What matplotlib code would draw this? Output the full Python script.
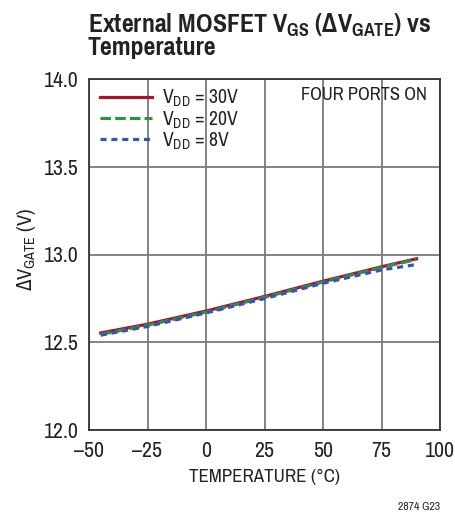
import matplotlib
matplotlib.use("Agg")
import matplotlib.pyplot as plt
from matplotlib import font_manager as fm

# data
temp = [-45, -25, 0, 25, 50, 75, 90]
vdd30 = [12.553, 12.603, 12.678, 12.761, 12.848, 12.930, 12.976]
vdd20 = [12.545, 12.597, 12.672, 12.756, 12.843, 12.926, 12.972]
vdd8 = [12.540, 12.590, 12.667, 12.749, 12.836, 12.912, 12.943]
xticks = [-50, -25, 0, 25, 50, 75, 100]
yticks = [12.0, 12.5, 13.0, 13.5, 14.0]


def wnum(w):
    if isinstance(w, str):
        return {"bold": 700, "heavy": 800, "black": 900, "semibold": 600,
                "demibold": 600}.get(w.lower(), 400)
    return w


# first narrow family that has both a regular and a bold face
prefs = ["Liberation Sans Narrow", "Nimbus Sans Narrow", "Arimo Narrow", "Pragati Narrow",
         "Roboto Condensed", "PT Sans Narrow", "IBM Plex Sans Condensed",
         "Fira Sans Condensed", "Encode Sans Condensed", "Archivo Narrow"]
fam = "Liberation Sans"
for p in prefs:
    ent = [f for f in fm.fontManager.ttflist if f.name == p and f.style == "normal"]
    if any(wnum(f.weight) < 600 for f in ent) and any(wnum(f.weight) >= 650 for f in ent):
        fam = p
        break

plt.rcParams["font.family"] = [fam, "DejaVu Sans"]
plt.rcParams["mathtext.fontset"] = "custom"
plt.rcParams["mathtext.rm"] = fam
plt.rcParams["mathtext.it"] = fam
plt.rcParams["mathtext.bf"] = fam + ":bold"
plt.rcParams["mathtext.fallback"] = "stixsans"

fig = plt.figure(figsize=(4.55, 5.13), dpi=100)
ax = fig.add_axes([89/455, 1-430/513, 351/455, 351/513])

ax.plot(temp, vdd30, color="#9b1b30", lw=2.3, label=r"$\mathrm{V_{DD}}$ = 30V")
ax.plot(temp, vdd20, color="#3a8a4a", lw=2.3, ls=(0, (3.3, 1.3)), label=r"$\mathrm{V_{DD}}$ = 20V")
ax.plot(temp, vdd8, color="#3a55a8", lw=2.3, ls=(0, (1.9, 1.5)), label=r"$\mathrm{V_{DD}}$ = 8V")

ax.set_xlim(-50, 100)
ax.set_ylim(12.0, 14.0)
ax.set_xticks(xticks)
ax.set_xticklabels([str(t).replace("-", "\u2013") for t in xticks])
ax.set_yticks(yticks)
ax.set_yticklabels(["%.1f" % v for v in yticks])
ax.tick_params(length=0, labelsize=17, colors="#222222")
ax.tick_params(axis="x", pad=8)
ax.tick_params(axis="y", pad=7.5)
ax.grid(True, color="#7a7a7a", lw=1.3)
ax.set_axisbelow(True)
for s in ax.spines.values():
    s.set_color("#333333")
    s.set_linewidth(1.3)

ax.set_xlabel("TEMPERATURE (\u00b0C)", fontsize=14.8, color="#222222")
ax.xaxis.set_label_coords(0.5, -0.112)
ax.set_ylabel(r"$\Delta\mathrm{V_{GATE}}$ (V)", fontsize=16, color="#222222")
ax.yaxis.set_label_coords(-0.144, 0.516)

leg = ax.legend(loc="upper left", bbox_to_anchor=(0.0, 1.005), frameon=False, fontsize=15.4,
                handlelength=2.43, handletextpad=0.47, labelspacing=0.0, borderaxespad=0.11)
for t in leg.get_texts():
    t.set_color("#222222")

ax.text(0.963, 0.954, "FOUR PORTS ON", transform=ax.transAxes, ha="right", va="center",
        fontsize=14.5, color="#222222")

fig.text(88/455, 1-33/513, r"External MOSFET $\mathbf{V_{GS}}$ ($\mathbf{\Delta V_{GATE}}$) vs",
         fontsize=20.3, fontweight="bold", ha="left", va="baseline", color="#222222")
fig.text(88/455, 1-55/513, "Temperature", fontsize=20.3, fontweight="bold",
         ha="left", va="baseline", color="#222222")
fig.text(440/455, 1-507/513, "2874 G23", fontsize=9.2, ha="right", va="center", color="#222222")

fig.savefig("out.png", dpi=100)
